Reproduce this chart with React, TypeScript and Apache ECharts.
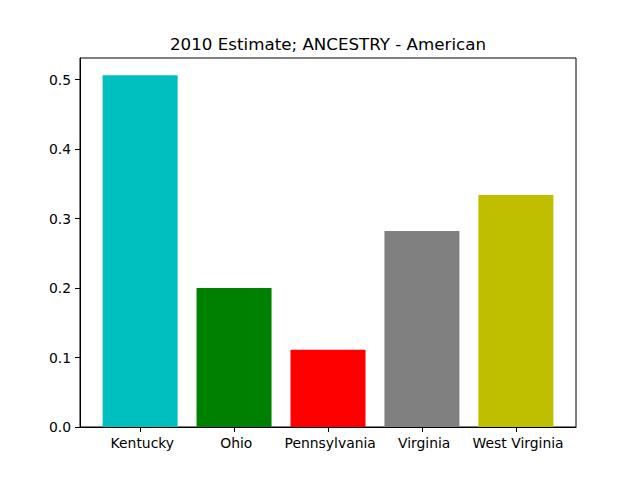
import React, { useEffect, useRef } from "react";
import * as echarts from "echarts";

const categories = [" Kentucky", " Ohio", " Pennsylvania", " Virginia", " West Virginia"];
const values = [0.506, 0.2, 0.111, 0.282, 0.334];
const colors = ["#00bfbf", "#008000", "#ff0000", "#808080", "#bfbf00"];
const yTicks = [0, 0.1, 0.2, 0.3, 0.4, 0.5];
const titleText = "2010 Estimate; ANCESTRY - American";

export default function App() {
  const ref = useRef<HTMLDivElement>(null);
  useEffect(() => {
    if (!ref.current) return;
    const chart = echarts.init(ref.current, null, { renderer: "svg" });
    const positions = categories.map((_, i) => i);
    const font = "DejaVu Sans";
    chart.setOption({
      animation: false,
      backgroundColor: "#ffffff",
      title: {
        text: titleText,
        left: 323,
        top: 30,
        textAlign: "center",
        textStyle: { fontFamily: font, fontSize: 16.7, fontWeight: "normal", color: "#000" },
      },
      grid: {
        left: 80,
        right: 64,
        top: 58,
        bottom: 53,
        show: true,
        borderColor: "#000",
        borderWidth: 1,
        backgroundColor: "transparent",
      },
      xAxis: {
        type: "value",
        min: -0.64,
        max: 4.64,
        splitLine: { show: false },
        axisLine: { show: true, onZero: false, lineStyle: { color: "#000" } },
        axisTick: {
          show: true,
          customValues: positions,
          length: 5,
          lineStyle: { color: "#000" },
        },
        axisLabel: {
          customValues: positions,
          formatter: (v: number) => categories[Math.round(v)] ?? "",
          fontFamily: font,
          fontSize: 13.9,
          color: "#000",
          margin: 9,
        },
      },
      yAxis: {
        type: "value",
        min: 0,
        max: 0.531,
        splitLine: { show: false },
        axisLine: { show: true, onZero: false, lineStyle: { color: "#000" } },
        axisTick: {
          show: true,
          customValues: yTicks,
          length: 5,
          lineStyle: { color: "#000" },
        },
        axisLabel: {
          customValues: yTicks,
          formatter: (v: number) => v.toFixed(1),
          fontFamily: font,
          fontSize: 13.9,
          color: "#000",
          margin: 9,
        },
      },
      series: [
        {
          type: "bar",
          barWidth: 75,
          data: values.map((v, i) => ({
            value: [i, v],
            itemStyle: { color: colors[i] },
          })),
        },
      ],
    });
    return () => chart.dispose();
  }, []);
  return (
    <div
      ref={ref}
      style={{ position: "fixed", left: 0, top: 0, width: 640, height: 480 }}
    />
  );
}
